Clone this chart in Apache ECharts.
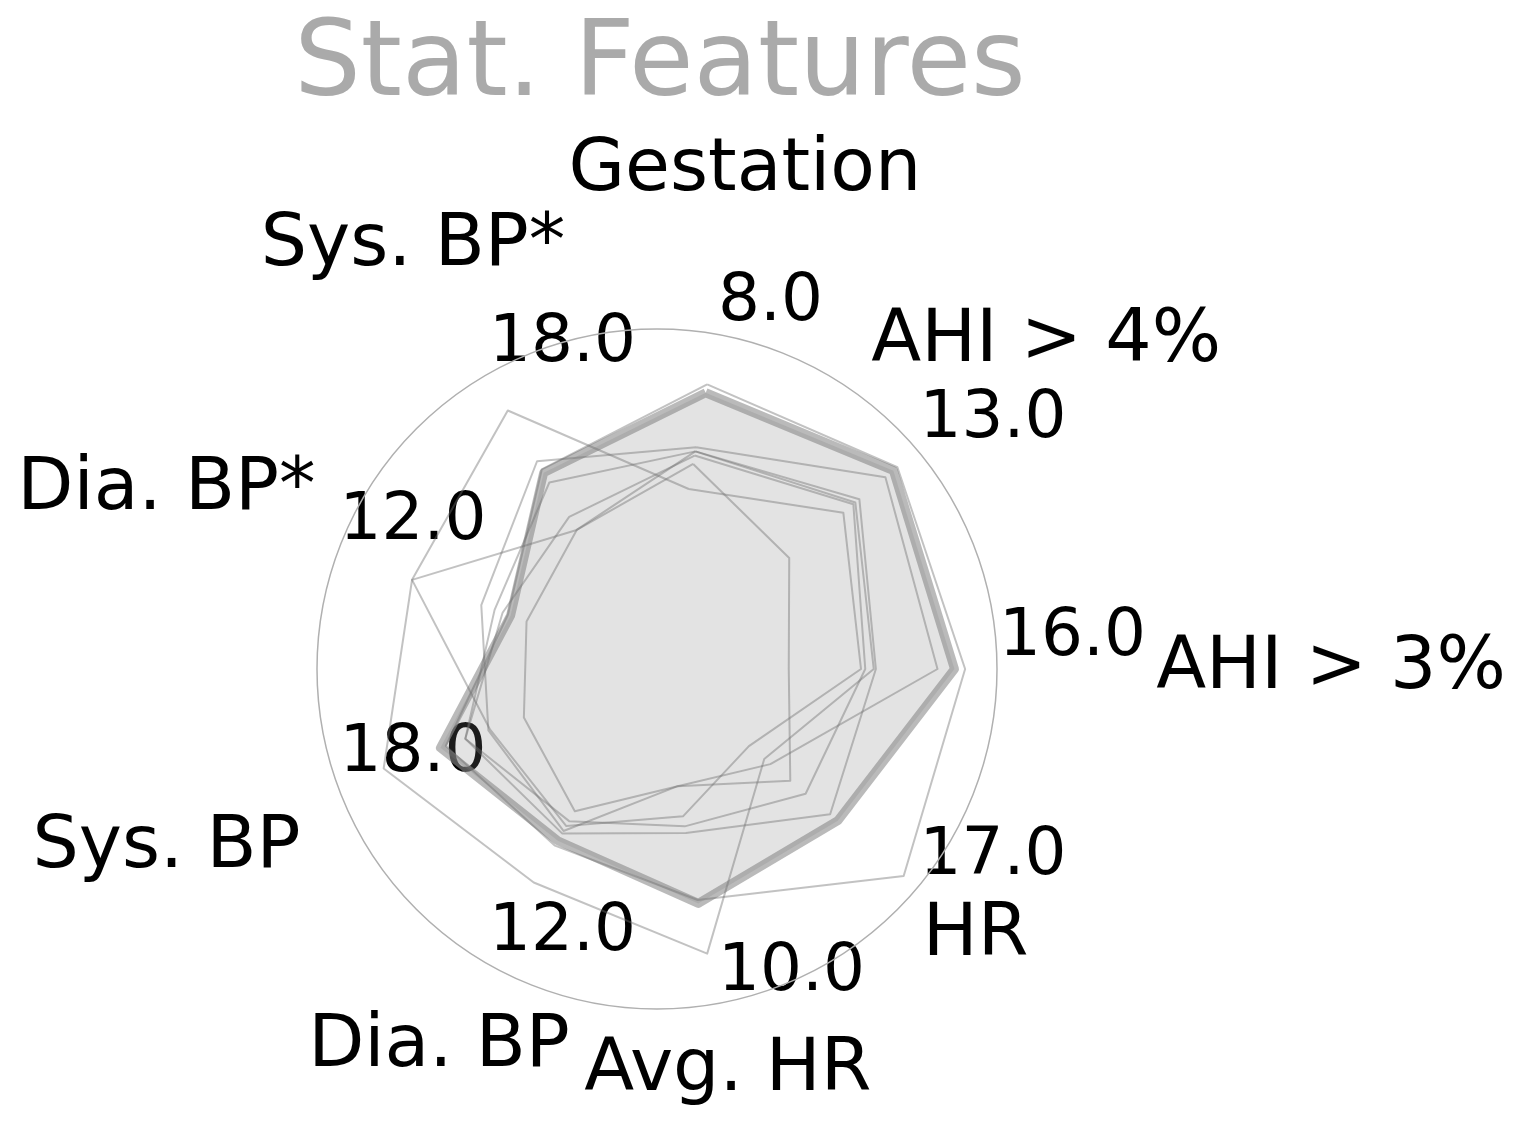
<!DOCTYPE html>
<html>
<head>
<meta charset="utf-8">
<script src="https://cdn.jsdelivr.net/npm/echarts@6/dist/echarts.min.js"></script>
<style>
  html, body { margin: 0; padding: 0; background: #fff; }
  #chart { width: 1523px; height: 1125px; }
</style>
</head>
<body>
<div id="chart"></div>
<script>
// axes, read clockwise from the top of the plot
const features = ['Gestation', 'AHI > 4%', 'AHI > 3%', 'HR', 'Avg. HR', 'Dia. BP', 'Sys. BP', 'Dia. BP*', 'Sys. BP*']
const featureMax = [8, 13, 16, 17, 10, 12, 18, 12, 18]
const maxLabels = ['8.0', '13.0', '16.0', '17.0', '10.0', '12.0', '18.0', '12.0', '18.0']

// mean profile (thick line + fill)
const meanValues = [6.6, 11.8, 14.0, 11.8, 7.0, 7.0, 12.2, 5.5, 12.0]
// single profiles (thin lines)
const profile1 = [6.8, 12.0, 14.5, 16.1, 6.9, 7.2, 11.9, 5.6, 12.2]
const profile2 = [5.3, 11.4, 13.2, 7.4, 3.5, 6.6, 9.5, 6.6, 12.7]
const profile3 = [5.2, 10.1, 10.3, 11.3, 4.9, 6.7, 10.8, 6.1, 11.4]
const profile4 = [5.1, 9.8, 9.8, 9.7, 4.7, 6.2, 10.8, 5.8, 9.3]
const profile5 = [4.3, 9.3, 9.6, 6.0, 4.4, 6.4, 9.4, 9.2, 15.8]
const profile6 = [4.9, 6.6, 6.2, 8.7, 3.5, 5.8, 7.5, 4.9, 8.5]
const profile7 = [5.2, 9.9, 10.2, 7.0, 8.5, 8.7, 15.4, 9.2, 8.5]
const profiles = [profile1, profile2, profile3, profile4, profile5, profile6, profile7]

// layout
const cx = 657
const cy = 669
const R = 340
const startAngle = 80
const nameDist = [506, 508, 674, 416, 408, 436, 522, 522, 488]
const font = 'DejaVu Sans, sans-serif'

// echarts lays indicators out counter-clockwise, so walk the list backwards
const order = features.map((_, i) => (features.length - i) % features.length)
const reorder = (arr) => order.map(i => arr[i])

const angleOf = (i) => (startAngle - i * 360 / features.length) * Math.PI / 180

const graphics = []
features.forEach((name, i) => {
  const a = angleOf(i)
  graphics.push({
    type: 'text',
    x: cx + nameDist[i] * Math.cos(a),
    y: cy - nameDist[i] * Math.sin(a),
    style: { text: name, fontSize: 73, fontFamily: font, fill: '#000', align: 'center', verticalAlign: 'middle' }
  })
  graphics.push({
    type: 'text',
    x: cx + R * Math.cos(a) + 2,
    y: cy - R * Math.sin(a) + 2,
    style: { text: maxLabels[i], fontSize: 66, fontFamily: font, fill: '#000', align: 'left', verticalAlign: 'bottom' }
  })
})

const chart = echarts.init(document.getElementById('chart'))

const thinData = profiles.map(p => ({
  value: reorder(p),
  lineStyle: { color: 'rgba(110,110,110,0.42)', width: 2 },
  areaStyle: { opacity: 0 }
}))

chart.setOption({
  animation: false,
  title: {
    text: 'Stat. Features',
    left: 655,
    top: 10,
    textAlign: 'center',
    textStyle: { fontSize: 105, fontWeight: 'normal', color: '#aaaaaa', fontFamily: font }
  },
  radar: {
    center: [cx, cy],
    radius: R,
    startAngle: startAngle,
    shape: 'circle',
    splitNumber: 1,
    indicator: reorder(features).map((name, k) => ({ name, min: 0, max: reorder(featureMax)[k] })),
    axisName: { show: false },
    axisLine: { show: false },
    axisTick: { show: false },
    axisLabel: { show: false },
    splitArea: { show: false },
    splitLine: { lineStyle: { color: '#b0b0b0', width: 1.5 } }
  },
  graphic: graphics,
  series: [
    {
      type: 'radar',
      symbol: 'none',
      z: 2,
      data: [{
        value: reorder(meanValues),
        lineStyle: { color: 'rgba(140,140,140,0.6)', width: 9 },
        areaStyle: { color: 'rgba(128,128,128,0.22)', opacity: 1 }
      }]
    },
    {
      type: 'radar',
      symbol: 'none',
      z: 3,
      data: thinData
    }
  ]
})
</script>
</body>
</html>
